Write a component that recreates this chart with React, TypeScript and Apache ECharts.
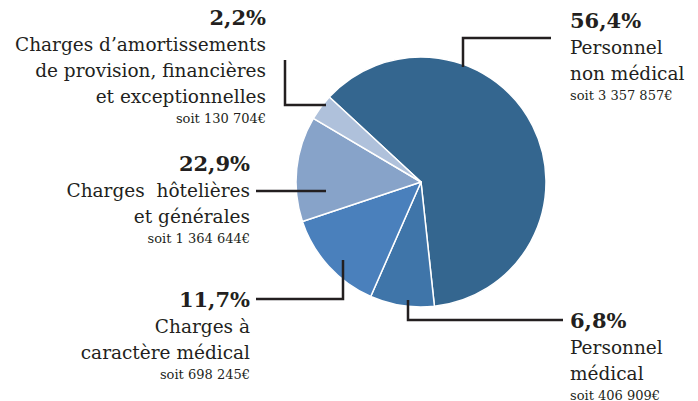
import React, { useEffect, useRef } from "react";
import * as echarts from "echarts";

const categories = [
  "Personnel non médical",
  "Personnel médical",
  "Charges à caractère médical",
  "Charges hôtelières et générales",
  "Charges d’amortissements de provision, financières et exceptionnelles",
];
const sliceValues = [61.4, 8.3, 13.3, 13.6, 3.4];
const percentLabels = ["56,4%", "6,8%", "11,7%", "22,9%", "2,2%"];
const amountLabels = [
  "soit 3 357 857€",
  "soit 406 909€",
  "soit 698 245€",
  "soit 1 364 644€",
  "soit 130 704€",
];
const nameLines = [
  ["Personnel", "non médical"],
  ["Personnel", "médical"],
  ["Charges à", "caractère médical"],
  ["Charges  hôtelières", "et générales"],
  ["Charges d’amortissements", "de provision, financières", "et exceptionnelles"],
];
const colors = ["#34668f", "#3f75a9", "#4a80bc", "#87a3c9", "#afc1db"];

const FONT = "'DejaVu Serif', 'Liberation Serif', serif";
const INK = "#231f20";

// label block layout: anchor x, align, y of percent line
const blocks = [
  { x: 570, align: "left", y: 20 },
  { x: 570, align: "left", y: 320 },
  { x: 250, align: "right", y: 299 },
  { x: 250, align: "right", y: 163 },
  { x: 266, align: "right", y: 17 },
];

// leader lines (polyline points)
const leaders = [
  [[463, 67], [463, 38], [551, 38]],
  [[408, 300], [408, 320], [563, 320]],
  [[343, 260], [343, 299], [256, 299]],
  [[326, 191], [256, 191]],
  [[326, 105], [285, 105], [285, 60]],
];

function buildGraphics() {
  const els: any[] = [];
  leaders.forEach((pts) => {
    els.push({
      type: "polyline",
      shape: { points: pts },
      style: { stroke: INK, lineWidth: 2.5, fill: null },
      z: 10,
    });
  });
  blocks.forEach((b, i) => {
    let y = b.y;
    els.push({
      type: "text",
      x: b.x,
      y,
      style: {
        text: percentLabels[i],
        font: `bold 21px ${FONT}`,
        fill: INK,
        align: b.align,
        verticalAlign: "middle",
      },
    });
    y += 27;
    nameLines[i].forEach((ln) => {
      els.push({
        type: "text",
        x: b.x,
        y,
        style: {
          text: ln,
          font: `18.5px ${FONT}`,
          fill: INK,
          align: b.align,
          verticalAlign: "middle",
        },
      });
      y += 26;
    });
    y -= 4;
    els.push({
      type: "text",
      x: b.x,
      y,
      style: {
        text: amountLabels[i],
        font: `13px ${FONT}`,
        fill: INK,
        align: b.align,
        verticalAlign: "middle",
      },
    });
  });
  return els;
}

export default function App() {
  const ref = useRef<HTMLDivElement>(null);
  useEffect(() => {
    if (!ref.current) return;
    const chart = echarts.init(ref.current, null, { renderer: "svg" });
    chart.setOption({
      animation: false,
      backgroundColor: "#ffffff",
      series: [
        {
          type: "pie",
          center: [421, 182],
          radius: [0, 125],
          startAngle: 137.2,
          clockwise: true,
          label: { show: false },
          labelLine: { show: false },
          emphasis: { disabled: true },
          itemStyle: { borderColor: "#ffffff", borderWidth: 1.5 },
          data: categories.map((c, i) => ({
            name: c,
            value: sliceValues[i],
            itemStyle: { color: colors[i] },
          })),
        },
      ],
      graphic: buildGraphics(),
    });
    return () => chart.dispose();
  }, []);
  return (
    <div
      ref={ref}
      style={{ position: "fixed", left: 0, top: 0, width: 698, height: 401 }}
    />
  );
}
